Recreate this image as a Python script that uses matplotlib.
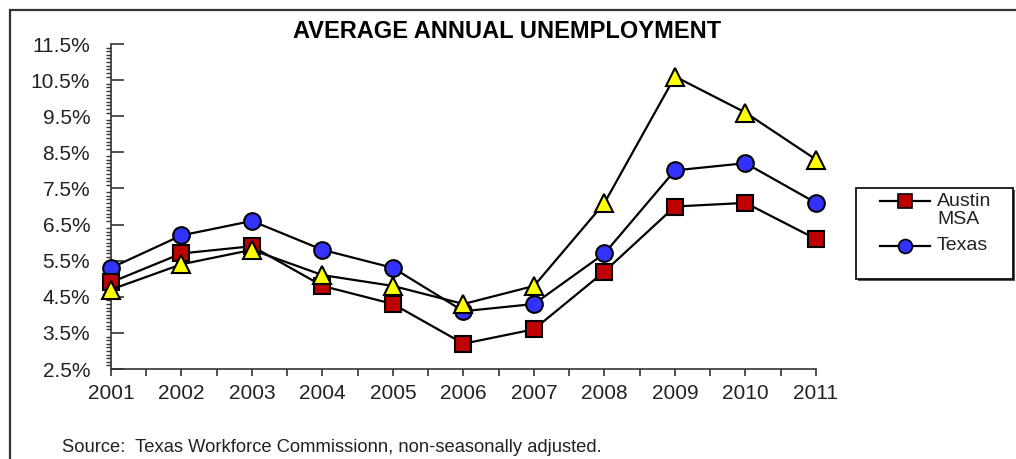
import matplotlib
matplotlib.use("Agg")
import matplotlib.pyplot as plt
from matplotlib.lines import Line2D
from matplotlib.patches import Rectangle
from matplotlib.ticker import MultipleLocator, FuncFormatter

plt.rcParams["font.family"] = ["Liberation Sans", "DejaVu Sans"]

years = [2001, 2002, 2003, 2004, 2005, 2006, 2007, 2008, 2009, 2010, 2011]
austin_msa = [4.9, 5.7, 5.9, 4.8, 4.3, 3.2, 3.6, 5.2, 7.0, 7.1, 6.1]
texas = [5.3, 6.2, 6.6, 5.8, 5.3, 4.1, 4.3, 5.7, 8.0, 8.2, 7.1]
third_series = [4.7, 5.4, 5.8, 5.1, 4.8, 4.3, 4.8, 7.1, 10.6, 9.6, 8.3]

W, H = 1016, 459
fig = plt.figure(figsize=(W / 100, H / 100), dpi=100)
tf = fig.transFigure

# outer chart frame (right and bottom edges fall outside the picture)
fig.patches.append(Rectangle((10 / W, -0.05), 1.1, 1.05 - 10 / H,
                             transform=tf, fill=False,
                             edgecolor="#333333", linewidth=1.6))

ax = fig.add_axes([111 / W, 1 - 369 / H, 705 / W, 325 / H])

style = dict(color="black", lw=1.6, mec="black", mew=1.5, clip_on=False, zorder=3)
ax.plot(years, texas, marker="o", ms=12, mfc="#3333FF", **style)
ax.plot(years, austin_msa, marker="s", ms=12, mfc="#C00000", **style)
ax.plot(years, third_series, marker="^", ms=13, mfc="#FFFF00", **style)

ax.set_xlim(2001, 2011)
ax.set_ylim(2.5, 11.5)
ax.set_xticks(years)
ax.xaxis.set_minor_locator(MultipleLocator(0.5))
ax.yaxis.set_major_locator(MultipleLocator(1.0, offset=0.5))
ax.yaxis.set_minor_locator(MultipleLocator(0.1))
ax.yaxis.set_major_formatter(FuncFormatter(lambda v, p: f"{v:.1f}%"))

for s in ["top", "right"]:
    ax.spines[s].set_visible(False)
for s in ["left", "bottom"]:
    ax.spines[s].set_color("#333333")
    ax.spines[s].set_linewidth(1.2)

ax.tick_params(axis="y", which="major", direction="in", length=9, width=1.2,
               labelsize=15, pad=15, colors="#333333", labelcolor="#222222")
ax.tick_params(axis="y", which="minor", direction="out", length=3.5, width=1,
               colors="#333333")
ax.tick_params(axis="x", which="both", direction="out", length=5, width=1.2,
               labelsize=15, pad=6, colors="#333333", labelcolor="#222222")

fig.text(507 / W, 1 - 32 / H, "AVERAGE ANNUAL UNEMPLOYMENT", ha="center",
         va="center", fontsize=17, fontweight="bold", color="black")

fig.text(62 / W, 1 - 447 / H,
         "Source:  Texas Workforce Commissionn, non-seasonally adjusted.",
         ha="left", va="center", fontsize=13.2, color="#222222")

# legend box with a small shadow, drawn by hand so the handle sits on the
# first line of "Austin MSA"
fig.patches.append(Rectangle((858 / W, 1 - 281 / H), 157 / W, 91 / H,
                             transform=tf, fill=True, facecolor="#555555",
                             edgecolor="none"))
fig.patches.append(Rectangle((856 / W, 1 - 279 / H), 157 / W, 91 / H,
                             transform=tf, facecolor="white", edgecolor="black",
                             linewidth=1.2))
legend_rows = [("#C00000", "s", 201), ("#3333FF", "o", 246)]
for fc, mk, yp in legend_rows:
    y = 1 - yp / H
    fig.add_artist(Line2D([880 / W, 930 / W], [y, y], transform=tf,
                          color="black", lw=1.6))
    fig.add_artist(Line2D([905 / W], [y], transform=tf, marker=mk, ms=10,
                          mfc=fc, mec="black", mew=1.2, lw=0))
for txt, yp in [("Austin", 201), ("MSA", 220), ("Texas", 246)]:
    fig.text(937 / W, 1 - yp / H, txt, ha="left", va="center",
             fontsize=14, color="#222222")

fig.savefig("out.png", dpi=100)
